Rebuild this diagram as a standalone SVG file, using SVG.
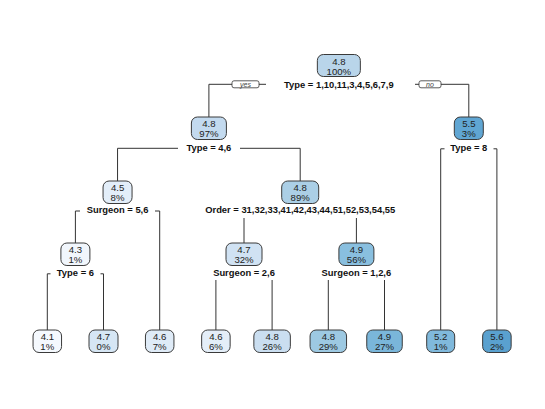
<svg xmlns="http://www.w3.org/2000/svg" width="545" height="409" viewBox="0 0 545 409">
<style>
.bg{fill:#ffffff}
.nb{stroke:#3a3a3a;stroke-width:1}
.nt{font-family:"Liberation Sans",Arial,sans-serif;font-size:9.6px;fill:#222;text-anchor:middle}
.sl{font-family:"Liberation Sans",Arial,sans-serif;font-size:9.4px;font-weight:bold;fill:#111;text-anchor:middle}
.ln{fill:none;stroke:#333;stroke-width:1}
.yn{fill:#fff;stroke:#333;stroke-width:0.8}
.ynt{font-family:"Liberation Sans",Arial,sans-serif;font-size:7px;font-style:italic;fill:#444;text-anchor:middle}
</style>
<rect class="bg" x="0" y="0" width="545" height="409"/>
<g id="connectors">
<polyline class="ln" points="266,84.3 208.9,84.3 208.9,117"/>
<polyline class="ln" points="415,84.3 468.8,84.3 468.8,117"/>
<rect class="yn" x="232" y="80.8" width="27" height="7" rx="2"/>
<text class="ynt" x="245.5" y="86.6">yes</text>
<rect class="yn" x="419" y="80.8" width="22" height="7" rx="2"/>
<text class="ynt" x="430" y="86.6">no</text>
<polyline class="ln" points="178,148.3 117.55,148.3 117.55,181"/>
<polyline class="ln" points="240,148.3 300.2,148.3 300.2,181"/>
<polyline class="ln" points="444.5,148.8 440.7,148.8 440.7,330"/>
<polyline class="ln" points="493.5,148.8 496.9,148.8 496.9,330"/>
<polyline class="ln" points="80,211 75.4,211 75.4,243"/>
<polyline class="ln" points="155,211 159.7,211 159.7,330"/>
<polyline class="ln" points="244,218 244,243"/>
<polyline class="ln" points="356.4,218 356.4,243"/>
<polyline class="ln" points="50.5,273.8 47.3,273.8 47.3,330"/>
<polyline class="ln" points="100.5,273.8 103.5,273.8 103.5,330"/>
<polyline class="ln" points="215.9,280 215.9,330"/>
<polyline class="ln" points="272.1,280 272.1,330"/>
<polyline class="ln" points="328.3,280 328.3,330"/>
<polyline class="ln" points="384.5,280 384.5,330"/>
</g>
<g id="n1">
<rect class="nb" x="317.35" y="54.5" width="43" height="22" rx="6" fill="#b9d5ea"/>
<text class="nt" x="338.85" y="64.5">4.8</text>
<text class="nt" x="338.85" y="75">100%</text>
<text class="sl" x="338.85" y="87.5">Type = 1,10,11,3,4,5,6,7,9</text>
</g>
<g id="n2">
<rect class="nb" x="191.4" y="117" width="35" height="22.5" rx="6" fill="#c3daef"/>
<text class="nt" x="208.9" y="126.5">4.8</text>
<text class="nt" x="208.9" y="137.3">97%</text>
<text class="sl" x="208.9" y="150.5">Type = 4,6</text>
</g>
<g id="n3">
<rect class="nb" x="454.3" y="117" width="29" height="22.5" rx="6" fill="#60a6d3"/>
<text class="nt" x="468.8" y="126.5">5.5</text>
<text class="nt" x="468.8" y="137.3">3%</text>
<text class="sl" x="468.8" y="150.5">Type = 8</text>
</g>
<g id="n4">
<rect class="nb" x="103.05" y="181" width="29" height="22.5" rx="6" fill="#e3eef9"/>
<text class="nt" x="117.55" y="190.5">4.5</text>
<text class="nt" x="117.55" y="201.3">8%</text>
<text class="sl" x="117.55" y="213">Surgeon = 5,6</text>
</g>
<g id="n5">
<rect class="nb" x="281.7" y="181" width="37" height="22.5" rx="6" fill="#abcfe6"/>
<text class="nt" x="300.2" y="190.5">4.8</text>
<text class="nt" x="300.2" y="201.3">89%</text>
<text class="sl" x="300.2" y="213">Order = 31,32,33,41,42,43,44,51,52,53,54,55</text>
</g>
<g id="n8">
<rect class="nb" x="60.9" y="243" width="29" height="22.5" rx="6" fill="#f1f6fc"/>
<text class="nt" x="75.4" y="252.5">4.3</text>
<text class="nt" x="75.4" y="263.3">1%</text>
<text class="sl" x="75.4" y="275.5">Type = 6</text>
</g>
<g id="n10">
<rect class="nb" x="226" y="243" width="36" height="22.5" rx="6" fill="#d0e2f3"/>
<text class="nt" x="244" y="252.5">4.7</text>
<text class="nt" x="244" y="263.3">32%</text>
<text class="sl" x="244" y="275.5">Surgeon = 2,6</text>
</g>
<g id="n11">
<rect class="nb" x="338.9" y="243" width="35" height="22.5" rx="6" fill="#89bfdf"/>
<text class="nt" x="356.4" y="252.5">4.9</text>
<text class="nt" x="356.4" y="263.3">56%</text>
<text class="sl" x="356.4" y="275.5">Surgeon = 1,2,6</text>
</g>
<g id="leaf1">
<rect class="nb" x="33.05" y="330" width="28.5" height="22.5" rx="6" fill="#f5f9fe"/>
<text class="nt" x="47.3" y="339.5">4.1</text>
<text class="nt" x="47.3" y="350.3">1%</text>
</g>
<g id="leaf2">
<rect class="nb" x="89" y="330" width="29" height="22.5" rx="6" fill="#d6e6f4"/>
<text class="nt" x="103.5" y="339.5">4.7</text>
<text class="nt" x="103.5" y="350.3">0%</text>
</g>
<g id="leaf3">
<rect class="nb" x="145.45" y="330" width="28.5" height="22.5" rx="6" fill="#dfebf7"/>
<text class="nt" x="159.7" y="339.5">4.6</text>
<text class="nt" x="159.7" y="350.3">7%</text>
</g>
<g id="leaf4">
<rect class="nb" x="201.65" y="330" width="28.5" height="22.5" rx="6" fill="#e4eef8"/>
<text class="nt" x="215.9" y="339.5">4.6</text>
<text class="nt" x="215.9" y="350.3">6%</text>
</g>
<g id="leaf5">
<rect class="nb" x="253.85" y="330" width="36.5" height="22.5" rx="6" fill="#cadef0"/>
<text class="nt" x="272.1" y="339.5">4.8</text>
<text class="nt" x="272.1" y="350.3">26%</text>
</g>
<g id="leaf6">
<rect class="nb" x="310.05" y="330" width="36.5" height="22.5" rx="6" fill="#9dc9e2"/>
<text class="nt" x="328.3" y="339.5">4.8</text>
<text class="nt" x="328.3" y="350.3">29%</text>
</g>
<g id="leaf7">
<rect class="nb" x="366.75" y="330" width="35.5" height="22.5" rx="6" fill="#7ab6da"/>
<text class="nt" x="384.5" y="339.5">4.9</text>
<text class="nt" x="384.5" y="350.3">27%</text>
</g>
<g id="leaf8">
<rect class="nb" x="426.7" y="330" width="28" height="22.5" rx="6" fill="#80b9dc"/>
<text class="nt" x="440.7" y="339.5">5.2</text>
<text class="nt" x="440.7" y="350.3">1%</text>
</g>
<g id="leaf9">
<rect class="nb" x="482.65" y="330" width="28.5" height="22.5" rx="6" fill="#5aa1cf"/>
<text class="nt" x="496.9" y="339.5">5.6</text>
<text class="nt" x="496.9" y="350.3">2%</text>
</g>
</svg>
